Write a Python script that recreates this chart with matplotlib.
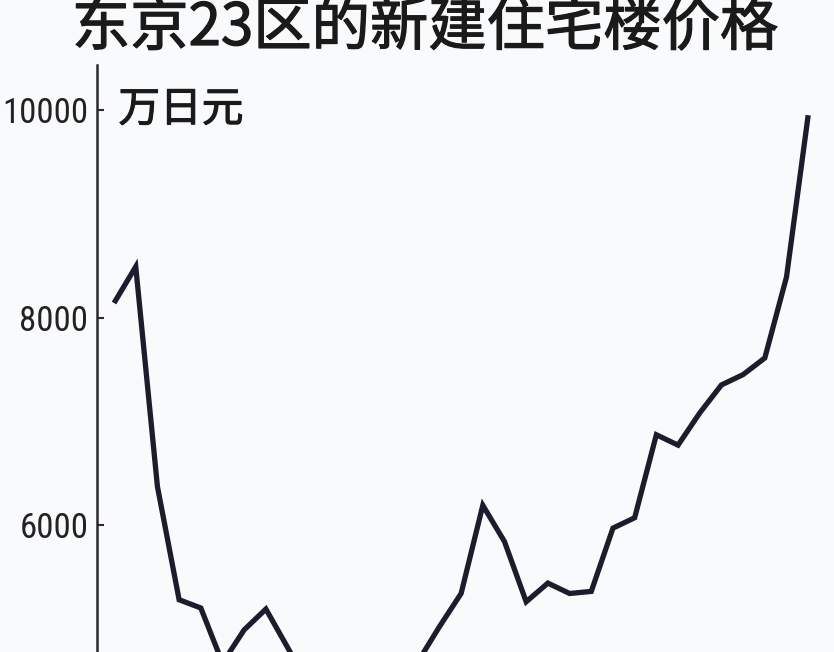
import numpy as np
import matplotlib
matplotlib.use("Agg")
import matplotlib.pyplot as plt
import matplotlib.patheffects as pe
from matplotlib import font_manager

plt.rcParams['font.family'] = ['Noto Sans CJK SC', 'DejaVu Sans']

# 东京23区新建住宅楼平均价格（万日元）
years = list(range(1990, 2023))
prices = [8140, 8490, 6370, 5280, 5200, 4670, 4990, 5190, 4820, 4450,
          4350, 4400, 4480, 4550, 4680, 5020, 5340, 6190, 5840, 5260,
          5440, 5340, 5360, 5970, 6070, 6870, 6770, 7080, 7350, 7450,
          7610, 8390, 9950]
yticks = [6000, 8000, 10000]
title = "东京23区的新建住宅楼价格"
unit = "万日元"

bg = '#f9fafc'
ink = '#1b1c2c'
txt = '#1a1a1a'

# 找一个窄体字来画刻度数字
installed = {f.name for f in font_manager.fontManager.ttflist}
narrow = [n for n in ['Liberation Sans Narrow', 'DejaVu Sans Condensed', 'Roboto Condensed',
                      'Open Sans Condensed', 'Noto Sans Display'] if n in installed]
if narrow:
    tick_family, tick_size = narrow[0], 25
else:
    tick_family, tick_size = 'Roboto', 22

# 常规字重加一点描边，接近原图的中等粗细
medium = [pe.withStroke(linewidth=0.9, foreground=txt)]

fig = plt.figure(figsize=(8.34, 6.52), dpi=100, facecolor=bg)
ax = fig.add_axes([96.7 / 834, 0, 1 - 96.7 / 834, (652 - 65) / 652])
ax.set_facecolor(bg)

ax.plot(years, prices, color=ink, linewidth=3.8, solid_joinstyle='miter',
        solid_capstyle='butt')

ax.set_xlim(1989.2, 2023.19)
ax.set_ylim(4776, 10434)

for s in ['top', 'right', 'bottom']:
    ax.spines[s].set_visible(False)
ax.spines['left'].set_color('#2a2a2a')
ax.spines['left'].set_linewidth(1.8)

ax.set_xticks([])
ax.set_yticks(yticks)
ax.set_yticklabels([str(v) for v in yticks], family=tick_family, stretch='condensed',
                   fontsize=tick_size, color='#222222')
ax.tick_params(axis='y', direction='in', length=5, width=1.5, pad=6, color='#2a2a2a')

ax.text(1990.2, 10000, unit, fontsize=30, color=txt, va='center', ha='left',
        path_effects=[pe.withStroke(linewidth=0.8, foreground=txt)])

fig.text(0.51, 1 - 45 / 652, title, fontsize=42, color=txt,
         ha='center', va='baseline', path_effects=medium)

fig.savefig('out.png', dpi=100, facecolor=bg)
